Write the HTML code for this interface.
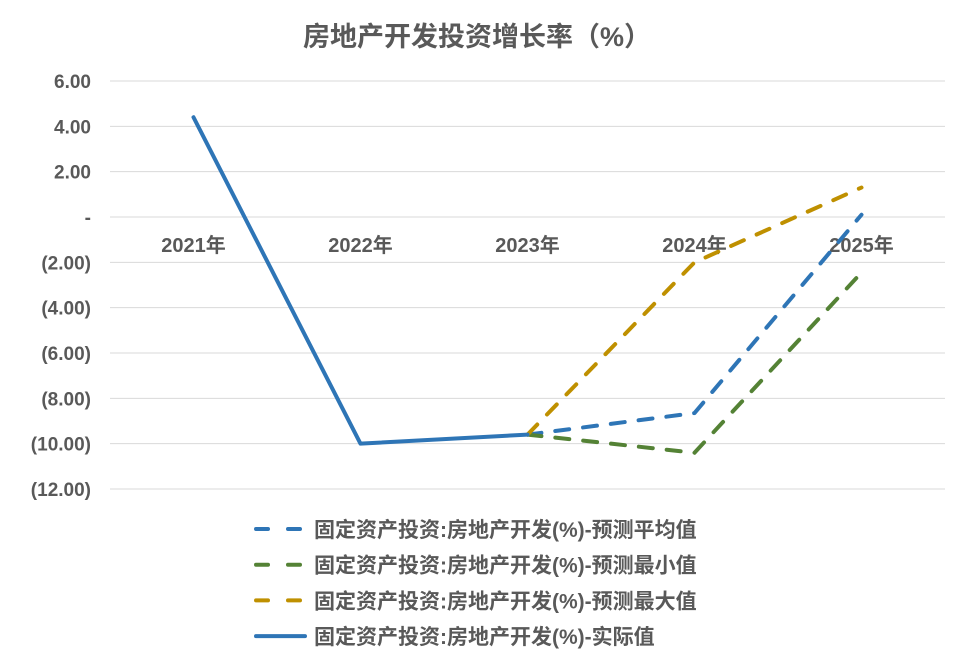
<!DOCTYPE html>
<html><head><meta charset="utf-8"><style>
body{margin:0;background:#fff}
svg{display:block;font-family:"Liberation Sans","Noto Sans CJK SC",sans-serif;font-weight:bold}
</style></head><body>
<svg id="chart" width="969" height="666">
<text x="477" y="46" text-anchor="middle" font-size="27" fill="#595959">房地产开发投资增长率（%）</text>
<g id="grid"></g><g id="yticks"></g><g id="xticks"></g><g id="series"></g><g id="legend"></g>
</svg>
<script>
const categories=["2021年","2022年","2023年","2024年","2025年"];
const actual=[4.4,-10.0,-9.6,null,null];
const avgForecast=[null,null,-9.6,-8.65,0.1];
const minForecast=[null,null,-9.6,-10.4,-2.45];
const maxForecast=[null,null,-9.6,-2.0,1.3];
const yTicks=[6,4,2,0,-2,-4,-6,-8,-10,-12];
const yTickLabels=["6.00","4.00","2.00","-","(2.00)","(4.00)","(6.00)","(8.00)","(10.00)","(12.00)"];
const seriesNames=["固定资产投资:房地产开发(%)-预测平均值","固定资产投资:房地产开发(%)-预测最小值","固定资产投资:房地产开发(%)-预测最大值","固定资产投资:房地产开发(%)-实际值"];
const NS="http://www.w3.org/2000/svg";
const L=110,R=945,T=81,B=489,yMax=6,yMin=-12;
const y=v=>T+(yMax-v)/(yMax-yMin)*(B-T);
const x=i=>L+(R-L)/categories.length*(i+0.5);
function mk(tag,parent,attrs){const e=document.createElementNS(NS,tag);for(const k in attrs)e.setAttribute(k,attrs[k]);document.getElementById(parent).appendChild(e);return e;}
yTicks.forEach((t,i)=>{
 const g=mk('line','grid',{x1:L,x2:R,y1:y(t),y2:y(t),stroke:'#d9d9d9','stroke-width':1});
 
 
 const tx=mk('text','yticks',{x:91,y:y(t)+7,'text-anchor':'end','font-size':19,fill:'#595959'});
 tx.textContent=yTickLabels[i];
 
 
});
categories.forEach((c,i)=>{
 const tx=mk('text','xticks',{x:x(i),y:y(0)+35,'text-anchor':'middle','font-size':20,fill:'#595959'});
 tx.textContent=c;
 
 
});
const defs=[[avgForecast,'#2e75b6','14 14','avg-forecast-line'],[minForecast,'#548235','14 14','min-forecast-line'],[maxForecast,'#bf9000','14 14','max-forecast-line'],[actual,'#2e75b6','','actual-line']];
defs.forEach(([d,col,dash,name])=>{
 const pts=[];d.forEach((v,i)=>{if(v!==null)pts.push(x(i)+','+y(v));});
 const p=mk('polyline','series',{points:pts.join(' '),fill:'none',stroke:col,'stroke-width':4,'stroke-dasharray':dash||'none','stroke-linecap':'round','stroke-linejoin':'round'});
 
 
});
seriesNames.forEach((n,i)=>{
 const yy=529+i*35.7;
 const d=defs[i];
 const ln=mk('line','legend',{x1:256,x2:305,y1:yy,y2:yy,stroke:d[1],'stroke-width':4,'stroke-dasharray':d[2]?'12 20':'none','stroke-linecap':'round'});
 
 
 const tx=mk('text','legend',{x:314,y:yy+8,'font-size':21,fill:'#595959'});
 tx.textContent=n;
 
 
});
</script>
</body></html>
